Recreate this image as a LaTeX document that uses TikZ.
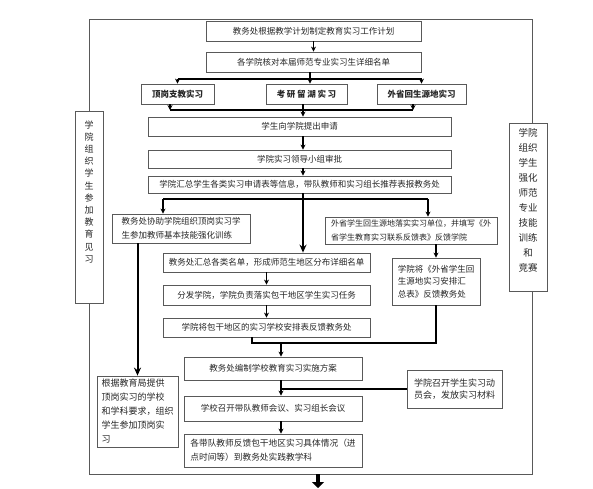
\documentclass[tikz,border=0pt]{standalone}
\usepackage{fontspec}
\setmainfont{Noto Sans CJK SC}
\usetikzlibrary{arrows.meta, calc}
\colorlet{color_frame}{black!65}
\colorlet{color_flow}{black}

\begin{document}
\begin{tikzpicture}[
    x=1pt, y=-1pt,
    >={Stealth[length=5pt, width=5pt]},
    font=\fontsize{8.5}{13.5}\selectfont,
    box/.style={draw=color_frame, line width=0.8pt, inner sep=0pt, align=center, text=black!85},
    textbox/.style={box, align=left},
    sidebox/.style={box, anchor=north, inner xsep=2pt},
    typebox/.style={box, font=\fontsize{8.5}{10}\selectfont\bfseries, minimum height=20pt},
    arrow/.style={->, line width=1.2pt, draw=color_flow},
    link/.style={line width=1.2pt, draw=color_flow},
    bigarrow/.style={-{Stealth[length=8pt, width=7pt]}, line width=2pt, draw=color_flow},
    hugearrow/.style={-{Triangle[length=6pt, width=12pt]}, line width=4pt, draw=color_flow},
    frame/.style={draw=color_frame, line width=0.8pt}
]
\useasboundingbox (0,0) rectangle (593,488);

%% ============================================================
%% PLANNING AND TYPES OF PRACTICE
%% ============================================================
\node[box, minimum width=215pt, minimum height=20pt] (plan) at (313.5,31) {教务处根据教学计划制定教育实习工作计划};
\node[box, minimum width=215pt, minimum height=20pt] (roster) at (313.5,62) {各学院核对本届师范专业实习生详细名单};
\draw[arrow] (plan) -- (roster);

\node[typebox, minimum width=73pt] (dingang) at (177.5,94) {顶岗支教实习};
\node[typebox, minimum width=81pt] (kaoyan) at (306.5,94) {\addfontfeature{LetterSpace=20}考研留湖实习};
\node[typebox, minimum width=89pt] (waisheng) at (421.5,94) {外省回生源地实习};

\coordinate (fork) at (310,79);
\coordinate (spine) at (303,0);
\draw[link] (fork |- roster.south) -- (fork);
\draw[link] (dingang.north |- fork) -- (waisheng.north |- fork);
\foreach \t in {dingang, waisheng} { \draw[arrow] (\t.north |- fork) -- (\t.north); }
\draw[arrow] (fork) -- (fork |- kaoyan.north);

\coordinate (joinL) at (170,110);
\coordinate (joinR) at (413,110);
\draw[arrow] (joinL |- dingang.south) -- (joinL);
\draw[arrow] (joinR |- waisheng.south) -- (joinR);
\draw[link] (joinL) -- (joinR);

%% ============================================================
%% APPLICATION
%% ============================================================
\node[box, minimum width=303pt, minimum height=19pt] (apply) at (299.5,126.5) {学生向学院提出申请};
\node[box, minimum width=303pt, minimum height=18pt] (approve) at (299.5,159) {学院实习领导小组审批};
\node[box, minimum width=303pt, minimum height=17pt] (report) at (299.5,184.5) {学院汇总学生各类实习申请表等信息，带队教师和实习组长推荐表报教务处};

\draw[arrow, line width=1.6pt] (spine |- kaoyan.south) -- (spine |- apply.north);
\foreach \a/\b in {apply/approve, approve/report} {
    \draw[arrow] (spine |- \a.south) -- (spine |- \b.north);
}

%% ============================================================
%% THREE BRANCHES
%% ============================================================
\node[textbox, minimum width=138pt, minimum height=29pt] (train) at (181,228.5) {教务处协助学院组织顶岗实习学\\生参加教师基本技能强化训练};
\node[textbox, minimum width=81pt, minimum height=71pt, font=\fontsize{9}{14}\selectfont] (bureau) at (137.5,411.5) {根据教育局提供\\顶岗实习的学校\\和学科要求，组织\\学生参加顶岗实\\习};

\node[box, minimum width=207pt, minimum height=19pt] (summary) at (266.5,262.5) {教务处汇总各类名单，形成师范生地区分布详细名单};
\node[box, minimum width=207pt, minimum height=20pt] (assign) at (266.5,295) {分发学院，学院负责落实包干地区学生实习任务};
\node[box, minimum width=207pt, minimum height=19pt] (feedback) at (266.5,327.5) {学院将包干地区的实习学校安排表反馈教务处};

\node[textbox, minimum width=172pt, minimum height=27pt, font=\fontsize{8}{13.5}\selectfont] (return) at (411,230.5) {外省学生回生源地落实实习单位，并填写《外\\省学生教育实习联系反馈表》反馈学院};
\node[textbox, minimum width=88pt, minimum height=47pt, font=\fontsize{8.5}{12.5}\selectfont] (collect) at (436,281.5) {学院将《外省学生回\\生源地实习安排汇\\总表》反馈教务处};

\coordinate (fork2L) at (163,199);
\coordinate (fork2R) at (428,199);
\draw[bigarrow] (spine |- report.south) -- (spine |- summary.north);
\draw[link] (fork2L) -- (fork2R);
\draw[arrow] (fork2L) -- (fork2L |- train.north);
\draw[arrow] (fork2R) -- (fork2R |- return.north);
\draw[bigarrow] (bureau.north |- train.south) -- (bureau.north);

\draw[arrow] (summary) -- (assign);
\draw[arrow] (assign) -- (feedback);
\draw[arrow] (collect.north |- return.south) -- (collect.north);

\coordinate (merge) at (281,343);
\coordinate (mergeL) at (252,343);
\draw[link] (collect.south) |- (mergeL) -- (mergeL |- feedback.south);

%% ============================================================
%% IMPLEMENTATION
%% ============================================================
\node[box, minimum width=178pt, minimum height=23pt] (scheme) at (273,368.5) {教务处编制学校教育实习实施方案};
\node[box, minimum width=178pt, minimum height=25pt] (meeting) at (273,408.5) {学校召开带队教师会议、实习组长会议};
\node[textbox, minimum width=178pt, minimum height=33pt, font=\fontsize{8.7}{14}\selectfont] (teachers) at (273,450.5) {各带队教师反馈包干地区实习具体情况（进\\点时间等）到教务处实践教学科};
\node[textbox, minimum width=95pt, minimum height=38pt, font=\fontsize{9}{12.5}\selectfont] (rally) at (454.5,389) {学院召开学生实习动\\员会，发放实习材料};

\draw[arrow] (merge) -- (merge |- scheme.north);
\draw[arrow] (merge |- scheme.south) -- (merge |- meeting.north);
\draw[link] (merge |- rally.west) -- (rally.west);
\draw[arrow] (merge |- meeting.south) -- (merge |- teachers.north);

%% ============================================================
%% SIDE ACTIVITIES AND FRAME
%% ============================================================
\node[sidebox, minimum width=28pt, inner ysep=9pt, text depth=32pt, font=\fontsize{9}{12.2}\selectfont] (visit) at (89,111) {学\\院\\组\\织\\学\\生\\参\\加\\教\\育\\见\\习};
\node[sidebox, minimum width=38pt, inner ysep=5pt, text depth=15pt, font=\fontsize{9.5}{15}\selectfont] (skill) at (528,123) {学院\\组织\\学生\\强化\\师范\\专业\\技能\\训练\\和\\竞赛};

\coordinate (frameTL) at (89,19);
\coordinate (frameTR) at (532,19);
\coordinate (frameBL) at (89,474);
\coordinate (frameBR) at (532,474);
\draw[frame] (visit.north) -- (frameTL) -- (frameTR) -- (frameTR |- skill.north);
\draw[frame] (visit.south) -- (frameBL) -- (frameBR) -- (frameBR |- skill.south);

\coordinate (exit) at (318,474);
\coordinate (exitEnd) at (318,488);
\draw[hugearrow] (exit) -- (exitEnd);

\end{tikzpicture}
\end{document}
